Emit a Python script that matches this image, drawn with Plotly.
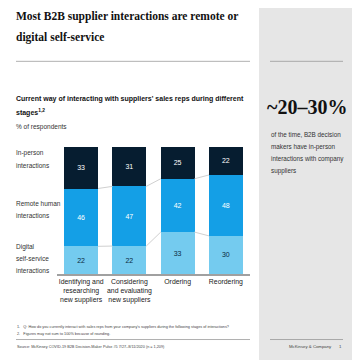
import plotly.graph_objects as go

categories = ["Identifying and<br>researching<br>new suppliers", "Considering<br>and evaluating<br>new suppliers", "Ordering", "Reordering"]
series_names = ["Digital self-service interactions", "Remote human interactions", "In-person interactions"]
digital = [22, 22, 33, 30]
remote = [46, 47, 42, 48]
inperson = [33, 31, 25, 22]
legend_labels = [["Digital", "self-service", "interactions"], ["Remote human", "interactions"], ["In-person", "interactions"]]

colors = ["#74cbef", "#149fe6", "#061d30"]
text_colors = ["#0b2a40", "#ffffff", "#ffffff"]

OFF = 8  # page body margin offset
W, H = 352, 352
L, R, T, B = 57 - OFF, 250 - OFF, 147 - OFF, 273 - OFF  # plot area in figure px


def px_x(px):
    return (px - OFF - L) / (R - L)


def px_y(py):
    return (B - (py - OFF)) / (B - T)


FONT = "Liberation Sans, Arial"
SERIF = "Liberation Serif, DejaVu Serif, serif"

fig = go.Figure()
xs = list(range(len(categories)))
series = [digital, remote, inperson]
for name, vals, c, tc in zip(series_names, series, colors, text_colors):
    fig.add_trace(go.Bar(
        x=xs, y=vals, name=name, marker=dict(color=c, line=dict(width=0)),
        text=[str(v) for v in vals], texttemplate="%{text}",
        textposition="inside", insidetextanchor="middle",
        textfont=dict(size=7, color=tc, family=FONT), width=0.7,
        showlegend=False, cliponaxis=False,
    ))

# connector lines between bars (from normalized cumulative sums)
totals = [sum(s[i] for s in series) for i in xs]
cum = [0] * len(xs)
for s in series[:-1]:
    cum = [cum[i] + s[i] * 100 / totals[i] for i in xs]
    for i in xs[:-1]:
        fig.add_trace(go.Scatter(
            x=[i + 0.35, i + 1 - 0.35], y=[cum[i], cum[i + 1]], mode="lines",
            line=dict(color="#d0d0d0", width=1), showlegend=False, hoverinfo="skip"))

fig.update_layout(
    width=W, height=H, barmode="stack", barnorm="percent",
    margin=dict(l=L, r=W - R, t=T, b=H - B - 1, autoexpand=False),
    paper_bgcolor="white", plot_bgcolor="white",
    font=dict(family=FONT, color="#222"),
)
fig.update_xaxes(range=[-0.5, 3.5], tickvals=xs, ticktext=categories,
                 showline=True, linecolor="#a0a0a0", linewidth=2,
                 showgrid=False, zeroline=False, ticks="", tickangle=0, automargin=False,
                 tickfont=dict(size=6.9, color="#222", family=FONT))
fig.update_yaxes(range=[0, 100], visible=False, automargin=False)

shapes = []
# right gray panel
shapes.append(dict(type="rect", xref="paper", yref="paper", x0=px_x(259), x1=px_x(370),
                   y0=px_y(370), y1=px_y(0), fillcolor="#e6e6e6", line=dict(width=0), layer="below"))
# rules
for (x0, x1, y, col) in [(16, 250, 62, "#b0b0b0"), (270, 343, 62, "#a8a8a8"),
                         (16, 250, 338, "#b0b0b0"), (270, 343, 338, "#a8a8a8")]:
    shapes.append(dict(type="line", xref="paper", yref="paper", x0=px_x(x0), x1=px_x(x1),
                       y0=px_y(y), y1=px_y(y), line=dict(color=col, width=1)))
fig.update_layout(shapes=shapes)

ann = []


def text(x, y, s, size, color="#222", family=FONT, xanchor="left", yanchor="middle", align="left"):
    ann.append(dict(x=px_x(x), y=px_y(y), xref="paper", yref="paper", text=s, showarrow=False,
                    xanchor=xanchor, yanchor=yanchor, align=align, borderpad=0,
                    font=dict(size=size, color=color, family=family)))


def lines(x, y0, step, parts, size, **kw):
    for k, p in enumerate(parts):
        text(x, y0 + k * step, p, size, **kw)


lines(15, 18, 20, ["<b>Most B2B supplier interactions are remote or</b>", "<b>digital self-service</b>"], 11.5,
      color="#111", family=SERIF)
lines(15, 99, 14, ["<b>Current way of interacting with suppliers' sales reps during different</b>",
                   "<b>stages<sup>1,2</sup></b>"], 7, color="#111")
text(15, 127, "% of respondents", 6.5, color="#333")

legend_y = [246, 203, 153]
for lbl, y in zip(legend_labels, legend_y):
    lines(15, y, 12, lbl, 6.5, color="#333")

lines(16, 326, 7, ["1.&nbsp;&nbsp;&nbsp;Q: How do you currently interact with sales reps from your company's suppliers during the following stages of interactions?",
                   "2.&nbsp;&nbsp;&nbsp;Figures may not sum to 100% because of rounding."], 3.8, color="#444")
text(16, 345, "Source: McKinsey COVID-19 B2B Decision-Maker Pulse #5 7/27–8/11/2020 (n = 1,209)", 3.8, color="#444")

text(307, 107, "<b>~20–30%</b>", 20, color="#111", family=SERIF, xanchor="center")
lines(270, 135, 12, ["of the time, B2B decision", "makers have in-person", "interactions with company", "suppliers"],
      6.3, color="#333")
text(333, 345, "McKinsey & Company", 4.3, color="#444", xanchor="right")
text(343, 345, "1", 4.3, color="#444", xanchor="right")

fig.update_layout(annotations=ann)
fig.write_html("out.html")
